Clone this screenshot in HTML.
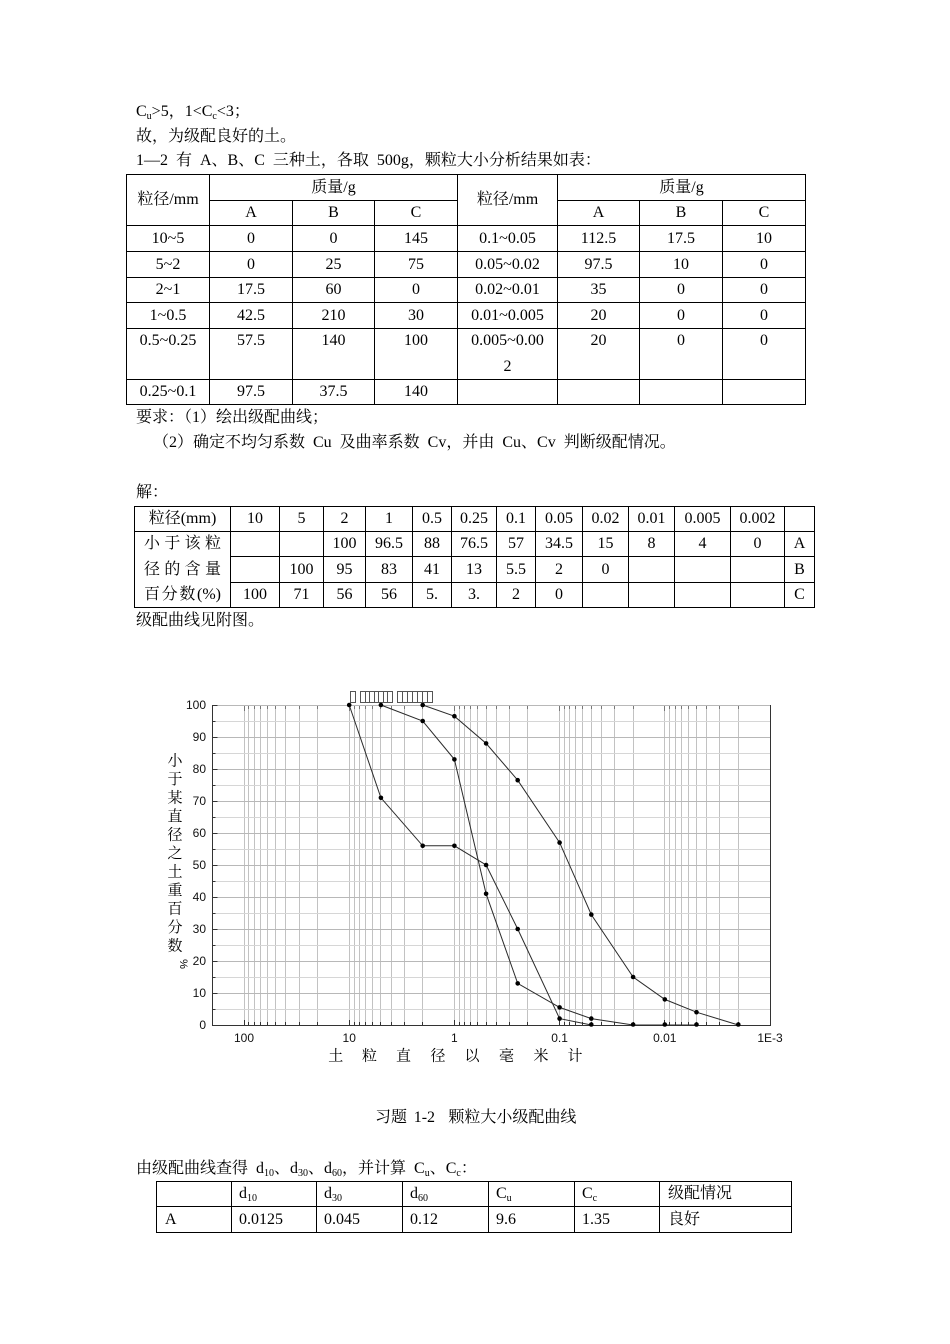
<!DOCTYPE html>
<html><head><meta charset="utf-8">
<style>
html,body{margin:0;padding:0;background:#fff}
#pg{position:relative;width:950px;height:1344px;overflow:hidden;background:#fff;font-family:"Liberation Serif","Noto Serif CJK SC",serif;font-size:16px;color:#000}
.l{position:absolute;white-space:nowrap;line-height:20px;transform:translateY(-50%)}
.w{word-spacing:4px}
.c{position:absolute;white-space:nowrap;line-height:20px;transform:translate(-50%,-50%)}
.j{position:absolute;width:77px;line-height:20px;text-align:justify;text-align-last:justify;transform:translateY(-50%);white-space:normal}
.s{font-size:10px;vertical-align:-3px;line-height:0}
svg{position:absolute;left:0;top:0}
</style></head><body><div id="pg">

<svg width="950" height="1344" viewBox="0 0 950 1344" shape-rendering="crispEdges">
<!-- Table 1 -->
<g stroke="#000" stroke-width="1" fill="none">
<rect x="126.5" y="174.5" width="679" height="230"/>
<path d="M209.5 200.5H457.5M557.5 200.5H805.5M126.5 225.5H805.5M126.5 251.5H805.5M126.5 277.5H805.5M126.5 302.5H805.5M126.5 328.5H805.5M126.5 379.5H805.5"/>
<path d="M209.5 174.5V404.5M457.5 174.5V404.5M557.5 174.5V404.5M292.5 200.5V404.5M374.5 200.5V404.5M639.5 200.5V404.5M722.5 200.5V404.5"/>
</g>
<!-- Table 2 -->
<g stroke="#000" stroke-width="1" fill="none">
<rect x="134.5" y="506.5" width="680" height="101"/>
<path d="M134.5 531.5H814.5M230.5 556.5H814.5M230.5 582.5H814.5"/>
<path d="M230.5 506.5V607.5M279.5 506.5V607.5M323.5 506.5V607.5M365.5 506.5V607.5M412.5 506.5V607.5M451.5 506.5V607.5M496.5 506.5V607.5M535.5 506.5V607.5M582.5 506.5V607.5M628.5 506.5V607.5M674.5 506.5V607.5M730.5 506.5V607.5M784.5 506.5V607.5"/>
</g>
<!-- Table 3 -->
<g stroke="#000" stroke-width="1" fill="none">
<rect x="156.5" y="1181.5" width="635" height="51"/>
<path d="M156.5 1206.5H791.5"/>
<path d="M231.5 1181.5V1232.5M316.5 1181.5V1232.5M402.5 1181.5V1232.5M488.5 1181.5V1232.5M574.5 1181.5V1232.5M659.5 1181.5V1232.5"/>
</g>

<!-- Chart grid -->
<g stroke="#c2c2c2" stroke-width="1" fill="none">
<path d="M244.5 705V1025M248.5 705V1025M254.5 705V1025M260.5 705V1025M267.5 705V1025M275.5 705V1025M285.5 705V1025M299.5 705V1025M317.5 705V1025M349.5 705V1025M354.5 705V1025M359.5 705V1025M365.5 705V1025M372.5 705V1025M380.5 705V1025M391.5 705V1025M404.5 705V1025M422.5 705V1025M454.5 705V1025M459.5 705V1025M464.5 705V1025M470.5 705V1025M477.5 705V1025M486.5 705V1025M496.5 705V1025M509.5 705V1025M527.5 705V1025M559.5 705V1025M564.5 705V1025M569.5 705V1025M575.5 705V1025M582.5 705V1025M591.5 705V1025M601.5 705V1025M614.5 705V1025M633.5 705V1025M664.5 705V1025M669.5 705V1025M675.5 705V1025M681.5 705V1025M688.5 705V1025M696.5 705V1025M706.5 705V1025M719.5 705V1025M738.5 705V1025"/>
</g>
<g stroke="#d6d6d6" stroke-width="1" fill="none">
<path d="M212 1009.5H770M212 977.5H770M212 945.5H770M212 913.5H770M212 881.5H770M212 849.5H770M212 817.5H770M212 785.5H770M212 753.5H770M212 721.5H770"/>
</g>
<g stroke="#b8b8b8" stroke-width="1" fill="none">
<path d="M212 993.5H770M212 961.5H770M212 929.5H770M212 897.5H770M212 865.5H770M212 833.5H770M212 801.5H770M212 769.5H770M212 737.5H770M212 705.5H770"/>
</g>
<!-- axes -->
<g stroke="#333" stroke-width="1" fill="none">
<path d="M212.5 705V1026M212 1025.5H771M770.5 705V1026"/>
<path d="M212.5 993.5h5M212.5 961.5h5M212.5 929.5h5M212.5 897.5h5M212.5 865.5h5M212.5 833.5h5M212.5 801.5h5M212.5 769.5h5M212.5 737.5h5M212.5 705.5h5M212.5 1009.5h3M212.5 977.5h3M212.5 945.5h3M212.5 913.5h3M212.5 881.5h3M212.5 849.5h3M212.5 817.5h3M212.5 785.5h3M212.5 753.5h3M212.5 721.5h3"/>
<path d="M244.5 1025v-5M349.5 1025v-5M454.5 1025v-5M559.5 1025v-5M664.5 1025v-5M248.5 1025v-3M254.5 1025v-3M260.5 1025v-3M267.5 1025v-3M275.5 1025v-3M285.5 1025v-3M299.5 1025v-3M317.5 1025v-3M354.5 1025v-3M359.5 1025v-3M365.5 1025v-3M372.5 1025v-3M380.5 1025v-3M391.5 1025v-3M404.5 1025v-3M422.5 1025v-3M459.5 1025v-3M464.5 1025v-3M470.5 1025v-3M477.5 1025v-3M486.5 1025v-3M496.5 1025v-3M509.5 1025v-3M527.5 1025v-3M564.5 1025v-3M569.5 1025v-3M575.5 1025v-3M582.5 1025v-3M591.5 1025v-3M601.5 1025v-3M614.5 1025v-3M633.5 1025v-3M669.5 1025v-3M675.5 1025v-3M681.5 1025v-3M688.5 1025v-3M696.5 1025v-3M706.5 1025v-3M719.5 1025v-3M738.5 1025v-3"/>
</g>
<g stroke="#777" stroke-width="1" fill="none">
<path d="M244.5 706v5M349.5 706v5M454.5 706v5M559.5 706v5M664.5 706v5M248.5 706v3M254.5 706v3M260.5 706v3M267.5 706v3M275.5 706v3M285.5 706v3M299.5 706v3M317.5 706v3M354.5 706v3M359.5 706v3M365.5 706v3M372.5 706v3M380.5 706v3M391.5 706v3M404.5 706v3M422.5 706v3M459.5 706v3M464.5 706v3M470.5 706v3M477.5 706v3M486.5 706v3M496.5 706v3M509.5 706v3M527.5 706v3M564.5 706v3M569.5 706v3M575.5 706v3M582.5 706v3M591.5 706v3M601.5 706v3M614.5 706v3M633.5 706v3M669.5 706v3M675.5 706v3M681.5 706v3M688.5 706v3M696.5 706v3M706.5 706v3M719.5 706v3M738.5 706v3"/>
</g>
<!-- tofu boxes -->
<g stroke="#555" stroke-width="1" fill="#fff">
<rect x="350.5" y="691.5" width="5" height="11"/>
<rect x="360.5" y="691.5" width="32" height="11"/>
<rect x="397.5" y="691.5" width="35" height="11"/>
<path d="M365.5 692V702M369.5 692V702M374.5 692V702M378.5 692V702M383.5 692V702M387.5 692V702M402.5 692V702M407.5 692V702M412.5 692V702M417.5 692V702M422.5 692V702M427.5 692V702" fill="none"/>
</g>

<!-- data lines -->
<g stroke="#2a2a2a" stroke-width="1" fill="none" shape-rendering="geometricPrecision">
<polyline points="422.7,705 454.4,716.2 486.1,743.4 517.7,780.2 559.6,842.6 591.3,914.6 633.1,977 664.8,999.4 696.5,1012.2 738.3,1025"/>
<polyline points="380.9,705 422.7,721 454.4,759.4 486.1,893.8 517.7,983.4 559.6,1007.4 591.3,1018.6 633.1,1025 664.8,1025 696.5,1025"/>
<polyline points="349.2,705 380.9,797.8 422.7,845.8 454.4,845.8 486.1,865 517.7,929 559.6,1018.6 591.3,1025"/>
</g>
<g fill="#000" shape-rendering="geometricPrecision">
<circle cx="422.7" cy="705" r="2.3"/><circle cx="454.4" cy="716.2" r="2.3"/><circle cx="486.1" cy="743.4" r="2.3"/><circle cx="517.7" cy="780.2" r="2.3"/><circle cx="559.6" cy="842.6" r="2.3"/><circle cx="591.3" cy="914.6" r="2.3"/><circle cx="633.1" cy="977" r="2.3"/><circle cx="664.8" cy="999.4" r="2.3"/><circle cx="696.5" cy="1012.2" r="2.3"/><circle cx="738.3" cy="1024.5" r="2.3"/>
<circle cx="380.9" cy="705" r="2.3"/><circle cx="422.7" cy="721" r="2.3"/><circle cx="454.4" cy="759.4" r="2.3"/><circle cx="486.1" cy="893.8" r="2.3"/><circle cx="517.7" cy="983.4" r="2.3"/><circle cx="559.6" cy="1007.4" r="2.3"/><circle cx="591.3" cy="1018.6" r="2.3"/><circle cx="633.1" cy="1024.5" r="2.3"/><circle cx="664.8" cy="1024.5" r="2.3"/><circle cx="696.5" cy="1024.5" r="2.3"/>
<circle cx="349.2" cy="705" r="2.3"/><circle cx="380.9" cy="797.8" r="2.3"/><circle cx="422.7" cy="845.8" r="2.3"/><circle cx="454.4" cy="845.8" r="2.3"/><circle cx="486.1" cy="865" r="2.3"/><circle cx="517.7" cy="929" r="2.3"/><circle cx="559.6" cy="1018.6" r="2.3"/><circle cx="591.3" cy="1024.5" r="2.3"/>
</g>

<!-- axis labels -->
<g font-family="Liberation Sans, Arial, sans-serif" font-size="12" fill="#111" text-anchor="end">
<text x="206" y="1029">0</text><text x="206" y="997">10</text><text x="206" y="965">20</text><text x="206" y="933">30</text><text x="206" y="901">40</text><text x="206" y="869">50</text><text x="206" y="837">60</text><text x="206" y="805">70</text><text x="206" y="773">80</text><text x="206" y="741">90</text><text x="206" y="709">100</text>
</g>
<g font-family="Liberation Sans, Arial, sans-serif" font-size="12" fill="#111" text-anchor="middle">
<text x="244" y="1042">100</text><text x="349.2" y="1042">10</text><text x="454.4" y="1042">1</text><text x="559.6" y="1042">0.1</text><text x="664.8" y="1042">0.01</text><text x="770" y="1042">1E-3</text>
</g>
<g font-family="Noto Serif CJK SC, serif" font-size="15" fill="#000" text-anchor="middle">
<text x="175" y="765.5">小</text><text x="175" y="784">于</text><text x="175" y="802.5">某</text><text x="175" y="821">直</text><text x="175" y="839.5">径</text><text x="175" y="858">之</text><text x="175" y="876.5">土</text><text x="175" y="895">重</text><text x="175" y="913.5">百</text><text x="175" y="932">分</text><text x="175" y="950.5">数</text>
<text x="0" y="0" font-family="Liberation Sans, sans-serif" font-size="11" transform="translate(180,964) rotate(90)">%</text>
</g>
<g font-family="Noto Serif CJK SC, serif" font-size="15" fill="#000" text-anchor="middle">
<text x="335.7" y="1060.5">土</text><text x="369.5" y="1060.5">粒</text><text x="403.5" y="1060.5">直</text><text x="438" y="1060.5">径</text><text x="472" y="1060.5">以</text><text x="506.5" y="1060.5">毫</text><text x="541" y="1060.5">米</text><text x="575" y="1060.5">计</text>
</g>
</svg>

<!-- Body text -->
<div class="l" style="left:136px;top:112px">C<span class="s">u</span>&gt;5，1&lt;C<span class="s">c</span>&lt;3；</div>
<div class="l" style="left:136px;top:136.5px">故，为级配良好的土。</div>
<div class="l w" style="left:136px;top:161px">1—2 有 A、B、C 三种土，各取 500g，颗粒大小分析结果如表：</div>

<!-- Table 1 text -->
<div class="c" style="left:168px;top:200px">粒径/mm</div>
<div class="c" style="left:333.5px;top:187.5px">质量/g</div>
<div class="c" style="left:507.5px;top:200px">粒径/mm</div>
<div class="c" style="left:681.5px;top:187.5px">质量/g</div>
<div class="c" style="left:251px;top:213px">A</div><div class="c" style="left:333.5px;top:213px">B</div><div class="c" style="left:416px;top:213px">C</div>
<div class="c" style="left:598.5px;top:213px">A</div><div class="c" style="left:681px;top:213px">B</div><div class="c" style="left:764px;top:213px">C</div>

<div class="c" style="left:168px;top:238.5px">10~5</div><div class="c" style="left:251px;top:238.5px">0</div><div class="c" style="left:333.5px;top:238.5px">0</div><div class="c" style="left:416px;top:238.5px">145</div><div class="c" style="left:507.5px;top:238.5px">0.1~0.05</div><div class="c" style="left:598.5px;top:238.5px">112.5</div><div class="c" style="left:681px;top:238.5px">17.5</div><div class="c" style="left:764px;top:238.5px">10</div>

<div class="c" style="left:168px;top:264.5px">5~2</div><div class="c" style="left:251px;top:264.5px">0</div><div class="c" style="left:333.5px;top:264.5px">25</div><div class="c" style="left:416px;top:264.5px">75</div><div class="c" style="left:507.5px;top:264.5px">0.05~0.02</div><div class="c" style="left:598.5px;top:264.5px">97.5</div><div class="c" style="left:681px;top:264.5px">10</div><div class="c" style="left:764px;top:264.5px">0</div>

<div class="c" style="left:168px;top:290px">2~1</div><div class="c" style="left:251px;top:290px">17.5</div><div class="c" style="left:333.5px;top:290px">60</div><div class="c" style="left:416px;top:290px">0</div><div class="c" style="left:507.5px;top:290px">0.02~0.01</div><div class="c" style="left:598.5px;top:290px">35</div><div class="c" style="left:681px;top:290px">0</div><div class="c" style="left:764px;top:290px">0</div>

<div class="c" style="left:168px;top:315.5px">1~0.5</div><div class="c" style="left:251px;top:315.5px">42.5</div><div class="c" style="left:333.5px;top:315.5px">210</div><div class="c" style="left:416px;top:315.5px">30</div><div class="c" style="left:507.5px;top:315.5px">0.01~0.005</div><div class="c" style="left:598.5px;top:315.5px">20</div><div class="c" style="left:681px;top:315.5px">0</div><div class="c" style="left:764px;top:315.5px">0</div>

<div class="c" style="left:168px;top:341px">0.5~0.25</div><div class="c" style="left:251px;top:341px">57.5</div><div class="c" style="left:333.5px;top:341px">140</div><div class="c" style="left:416px;top:341px">100</div><div class="c" style="left:507.5px;top:341px">0.005~0.00</div><div class="c" style="left:507.5px;top:366.5px">2</div><div class="c" style="left:598.5px;top:341px">20</div><div class="c" style="left:681px;top:341px">0</div><div class="c" style="left:764px;top:341px">0</div>

<div class="c" style="left:168px;top:392px">0.25~0.1</div><div class="c" style="left:251px;top:392px">97.5</div><div class="c" style="left:333.5px;top:392px">37.5</div><div class="c" style="left:416px;top:392px">140</div>

<div class="l" style="left:136px;top:418px">要求：（1）绘出级配曲线；</div>
<div class="l w" style="left:153px;top:443px">（2）确定不均匀系数 Cu 及曲率系数 Cv，并由 Cu、Cv 判断级配情况。</div>
<div class="l" style="left:136px;top:493px">解：</div>

<!-- Table 2 text -->
<div class="c" style="left:182.5px;top:519px">粒径(mm)</div>
<div class="c" style="left:255px;top:519px">10</div><div class="c" style="left:301.5px;top:519px">5</div><div class="c" style="left:344.5px;top:519px">2</div><div class="c" style="left:389px;top:519px">1</div><div class="c" style="left:432px;top:519px">0.5</div><div class="c" style="left:474px;top:519px">0.25</div><div class="c" style="left:516px;top:519px">0.1</div><div class="c" style="left:559px;top:519px">0.05</div><div class="c" style="left:605.5px;top:519px">0.02</div><div class="c" style="left:651.5px;top:519px">0.01</div><div class="c" style="left:702.5px;top:519px">0.005</div><div class="c" style="left:757.5px;top:519px">0.002</div>

<div class="j" style="left:144px;top:544px">小 于 该 粒</div>
<div class="j" style="left:144px;top:569.5px">径 的 含 量</div>
<div class="j" style="left:144px;top:595px">百分数(%)</div>

<div class="c" style="left:344.5px;top:544px">100</div><div class="c" style="left:389px;top:544px">96.5</div><div class="c" style="left:432px;top:544px">88</div><div class="c" style="left:474px;top:544px">76.5</div><div class="c" style="left:516px;top:544px">57</div><div class="c" style="left:559px;top:544px">34.5</div><div class="c" style="left:605.5px;top:544px">15</div><div class="c" style="left:651.5px;top:544px">8</div><div class="c" style="left:702.5px;top:544px">4</div><div class="c" style="left:757.5px;top:544px">0</div><div class="c" style="left:799.5px;top:544px">A</div>

<div class="c" style="left:301.5px;top:569.5px">100</div><div class="c" style="left:344.5px;top:569.5px">95</div><div class="c" style="left:389px;top:569.5px">83</div><div class="c" style="left:432px;top:569.5px">41</div><div class="c" style="left:474px;top:569.5px">13</div><div class="c" style="left:516px;top:569.5px">5.5</div><div class="c" style="left:559px;top:569.5px">2</div><div class="c" style="left:605.5px;top:569.5px">0</div><div class="c" style="left:799.5px;top:569.5px">B</div>

<div class="c" style="left:255px;top:595px">100</div><div class="c" style="left:301.5px;top:595px">71</div><div class="c" style="left:344.5px;top:595px">56</div><div class="c" style="left:389px;top:595px">56</div><div class="c" style="left:432px;top:595px">5.</div><div class="c" style="left:474px;top:595px">3.</div><div class="c" style="left:516px;top:595px">2</div><div class="c" style="left:559px;top:595px">0</div><div class="c" style="left:799.5px;top:595px">C</div>

<div class="l" style="left:136px;top:620.5px">级配曲线见附图。</div>

<div class="l" style="left:375px;top:1118px;word-spacing:2.7px">习题 1-2&nbsp; 颗粒大小级配曲线</div>
<div class="l w" style="left:136px;top:1169px">由级配曲线查得 d<span class="s">10</span>、d<span class="s">30</span>、d<span class="s">60</span>，并计算 C<span class="s">u</span>、C<span class="s">c</span>：</div>

<!-- Table 3 text -->
<div class="l" style="left:239px;top:1194px">d<span class="s">10</span></div>
<div class="l" style="left:324px;top:1194px">d<span class="s">30</span></div>
<div class="l" style="left:410px;top:1194px">d<span class="s">60</span></div>
<div class="l" style="left:496px;top:1194px">C<span class="s">u</span></div>
<div class="l" style="left:582px;top:1194px">C<span class="s">c</span></div>
<div class="l" style="left:668px;top:1194px">级配情况</div>
<div class="l" style="left:165px;top:1219.5px">A</div>
<div class="l" style="left:239px;top:1219.5px">0.0125</div>
<div class="l" style="left:324px;top:1219.5px">0.045</div>
<div class="l" style="left:410px;top:1219.5px">0.12</div>
<div class="l" style="left:496px;top:1219.5px">9.6</div>
<div class="l" style="left:582px;top:1219.5px">1.35</div>
<div class="l" style="left:668px;top:1219.5px">良好</div>

</div></body></html>
